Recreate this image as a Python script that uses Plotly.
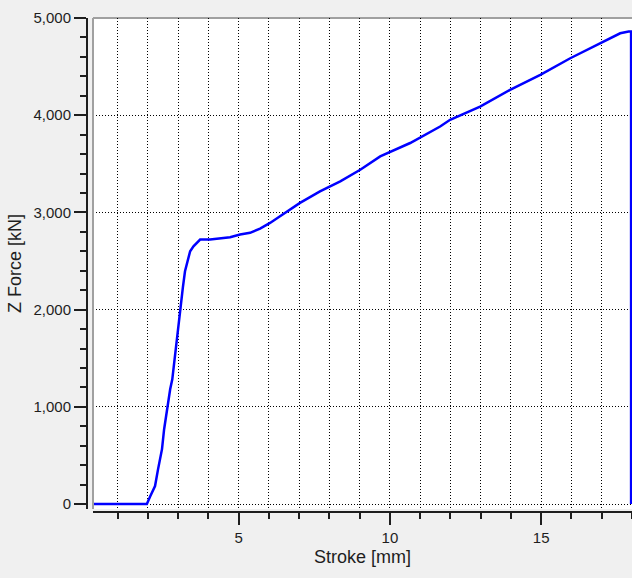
import plotly.graph_objects as go

# Data
stroke_mm = [0.2, 1.97, 2.07, 2.24, 2.34, 2.47, 2.54, 2.64, 2.74, 2.81, 2.95, 3.09, 3.16,
             3.23, 3.31, 3.40, 3.51, 3.73, 4.06, 4.39, 4.72, 5.05, 5.38, 5.71, 6.04, 6.37,
             7.03, 7.69, 8.36, 9.02, 9.68, 10.67, 11.66, 11.99, 12.98, 13.97, 14.97, 15.96,
             16.95, 17.61, 17.89, 17.97, 17.97]
z_force_kn = [0, 0, 72, 185, 359, 565, 770, 996, 1181, 1283, 1680, 2053, 2228,
              2395, 2498, 2601, 2652, 2721, 2721, 2731, 2744, 2772, 2790, 2834, 2892, 2960,
              3098, 3217, 3319, 3439, 3576, 3714, 3884, 3953, 4089, 4261, 4415, 4586,
              4740, 4843, 4860, 4860, 0]

x_major_ticks = [5, 10, 15]
y_major_ticks = [0, 1000, 2000, 3000, 4000, 5000]

W, H = 632, 578
ML, MR, MT, MB = 85, 0, 18, 60
pw = W - ML - MR
ph = H - MT - MB
plot_left_px = 93
plot_bottom_px = 509
yaxis_px = 87
xaxis_px = 512

x_dom0 = (plot_left_px - ML) / pw
y_dom0 = (H - MB - plot_bottom_px) / ph
y_pos = (yaxis_px - ML) / pw
x_pos = (H - MB - xaxis_px) / ph

fig = go.Figure()
fig.add_trace(go.Scatter(
    x=stroke_mm, y=z_force_kn, mode="lines",
    line=dict(color="#0000ff", width=2.5),
    hoverinfo="skip", showlegend=False,
))

font = dict(family="Liberation Sans, Arial, sans-serif", size=15, color="#1e1e1e")
grid = dict(gridcolor="#000000", gridwidth=1, griddash="1px,2px")

fig.update_layout(
    width=W, height=H,
    margin=dict(l=ML, r=MR, t=MT, b=MB, pad=0, autoexpand=False),
    paper_bgcolor="#f0f0f0",
    plot_bgcolor="#ffffff",
    font=font,
    xaxis=dict(
        domain=[x_dom0, 1], anchor="free", position=x_pos, automargin=False,
        range=[0.19, 18.0],
        tickvals=x_major_ticks, ticks="outside", ticklen=12, tickwidth=1.5,
        tickcolor="#1e1e1e",
        showline=True, linecolor="#1e1e1e", linewidth=2,
        showgrid=True, **grid,
        zeroline=False,
        minor=dict(dtick=1, tick0=0, ticks="outside", ticklen=6, tickwidth=1.5,
                   tickcolor="#1e1e1e", showgrid=True, gridcolor="#000000",
                   gridwidth=1, griddash="1px,2px"),
        title=dict(text="Stroke [mm]", font=dict(size=18), standoff=4),
        tickfont=dict(size=15),
    ),
    yaxis=dict(
        domain=[y_dom0, 1], anchor="free", position=y_pos, automargin=False,
        range=[-51, 5000],
        tickvals=y_major_ticks, tickformat=",d",
        ticks="outside", ticklen=12, tickwidth=1.5, tickcolor="#1e1e1e",
        showline=True, linecolor="#1e1e1e", linewidth=2,
        showgrid=True, **grid,
        zeroline=False,
        minor=dict(dtick=200, tick0=0, ticks="outside", ticklen=6, tickwidth=1.5,
                   tickcolor="#1e1e1e", showgrid=False),
        title=dict(text="Z Force [kN]", font=dict(size=18), standoff=6),
        tickfont=dict(size=15),
    ),
)

# plot-area frame (gray, left and top)
fig.add_shape(type="line", xref="paper", yref="paper", x0=x_dom0, x1=x_dom0,
              y0=y_dom0, y1=1, line=dict(color="#a0a0a0", width=2), layer="above")
fig.add_shape(type="line", xref="paper", yref="paper", x0=x_dom0, x1=1,
              y0=1, y1=1, line=dict(color="#a0a0a0", width=2), layer="below")

fig.write_html(
    "out.html",
    config={"displayModeBar": False},
    post_script="document.body.style.margin='0';document.body.style.background='#f0f0f0';",
)
